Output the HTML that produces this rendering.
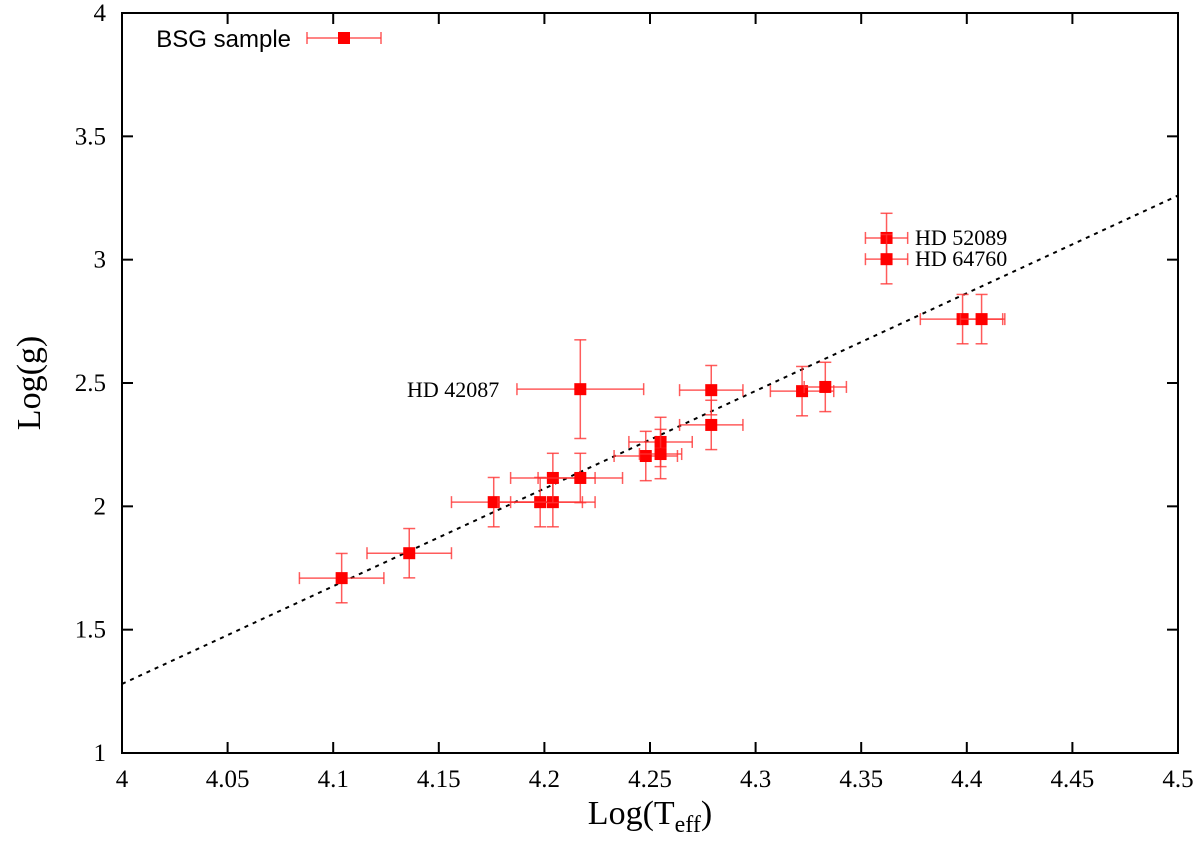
<!DOCTYPE html>
<html><head><meta charset="utf-8"><style>
body{margin:0;background:#fff}
</style></head><body>
<svg id="c" width="1200" height="839" xmlns="http://www.w3.org/2000/svg" style="font-family:'Liberation Serif',serif"></svg>
<script>
const xVals=[4.104,4.136,4.176,4.198,4.204,4.204,4.217,4.217,4.248,4.255,4.255,4.279,4.279,4.322,4.333,4.362,4.362,4.398,4.407];
const yVals=[1.709,1.81,2.017,2.017,2.017,2.115,2.115,2.475,2.204,2.261,2.212,2.471,2.33,2.467,2.484,3.088,3.002,2.759,2.759];
const xErr=[0.02,0.02,0.02,0.02,0.02,0.02,0.02,0.03,0.015,0.015,0.01,0.015,0.015,0.015,0.01,0.01,0.01,0.02,0.01];
const yErr=[0.1,0.1,0.1,0.1,0.1,0.1,0.1,0.2,0.1,0.1,0.1,0.1,0.1,0.1,0.1,0.1,0.1,0.1,0.1];
const xTicks=[4,4.05,4.1,4.15,4.2,4.25,4.3,4.35,4.4,4.45,4.5];
const yTicks=[1,1.5,2,2.5,3,3.5,4];
const fitLine=[[4,1.28],[4.5,3.26]];
const X0=122,X1=1178,Y0=753,Y1=13;
const sx=v=>X0+(v-4)/0.5*(X1-X0);
const sy=v=>Y0-(v-1)/3*(Y0-Y1);
const svg=document.getElementById('c');
function el(t,a,p){const e=document.createElementNS('http://www.w3.org/2000/svg',t);for(const k in a)e.setAttribute(k,a[k]);(p||svg).appendChild(e);return e;}
let fl=el('line',{x1:sx(fitLine[0][0]),y1:sy(fitLine[0][1]),x2:sx(fitLine[1][0]),y2:sy(fitLine[1][1]),stroke:'#000','stroke-width':2,'stroke-dasharray':'4,5'});


const g=el('g',{});


function errPoint(cx,cy,hx,hy,parent){
  const s={stroke:'#f33','stroke-width':1.5,'stroke-opacity':0.8};
  el('line',Object.assign({x1:cx-hx,y1:cy,x2:cx+hx,y2:cy},s),parent);
  el('line',Object.assign({x1:cx-hx,y1:cy-6,x2:cx-hx,y2:cy+6},s),parent);
  el('line',Object.assign({x1:cx+hx,y1:cy-6,x2:cx+hx,y2:cy+6},s),parent);
  el('line',Object.assign({x1:cx,y1:cy-hy,x2:cx,y2:cy+hy},s),parent);
  el('line',Object.assign({x1:cx-6,y1:cy-hy,x2:cx+6,y2:cy-hy},s),parent);
  el('line',Object.assign({x1:cx-6,y1:cy+hy,x2:cx+6,y2:cy+hy},s),parent);
  return el('rect',{x:cx-6,y:cy-6,width:12,height:12,fill:'#f00'},parent);
}
for(let i=0;i<xVals.length;i++){
  const pg=el('g',{},g);
  
  
  errPoint(sx(xVals[i]),sy(yVals[i]),xErr[i]/0.5*(X1-X0),yErr[i]/3*(Y0-Y1),pg);
}
const fr=el('rect',{x:X0,y:Y1,width:X1-X0,height:Y0-Y1,fill:'none',stroke:'#000','stroke-width':2});


xTicks.forEach(v=>{
  const x=sx(v);
  el('line',{x1:x,y1:Y0,x2:x,y2:Y0-11,stroke:'#000','stroke-width':2});
  el('line',{x1:x,y1:Y1,x2:x,y2:Y1+11,stroke:'#000','stroke-width':2});
  const t=el('text',{x:x,y:787,'font-size':25,'text-anchor':'middle'});t.textContent=String(v);
  
  
});
yTicks.forEach(v=>{
  const y=sy(v);
  el('line',{x1:X0,y1:y,x2:X0+11,y2:y,stroke:'#000','stroke-width':2});
  el('line',{x1:X1,y1:y,x2:X1-11,y2:y,stroke:'#000','stroke-width':2});
  const t=el('text',{x:106,y:y+8,'font-size':25,'text-anchor':'end'});t.textContent=String(v);
  
  
});
</script>
<svg width="1200" height="839" style="position:absolute;left:0;top:0" xmlns="http://www.w3.org/2000/svg">
<text x="650" y="824" font-size="34" text-anchor="middle" style="font-family:'Liberation Serif',serif">Log(T<tspan font-size="24" dy="8">eff</tspan><tspan dy="-8">)</tspan></text>
<text transform="translate(40,383) rotate(-90)" font-size="34" text-anchor="middle" style="font-family:'Liberation Serif',serif">Log(g)</text>
<text x="291" y="47" font-size="24" text-anchor="end" style="font-family:'Liberation Sans',sans-serif">BSG sample</text>
<g stroke="#f33" stroke-width="1.5" stroke-opacity="0.8">
<line x1="307" y1="38" x2="381" y2="38"/><line x1="307" y1="32" x2="307" y2="44"/><line x1="381" y1="32" x2="381" y2="44"/>
<rect x="338" y="32" width="12" height="12" fill="#f00" stroke="none"/></g>
<text x="407" y="397" font-size="22" style="font-family:'Liberation Serif',serif">HD 42087</text>
<text x="915" y="245" font-size="22" style="font-family:'Liberation Serif',serif">HD 52089</text>
<text x="915" y="266" font-size="22" style="font-family:'Liberation Serif',serif">HD 64760</text>
</svg>
</body></html>
